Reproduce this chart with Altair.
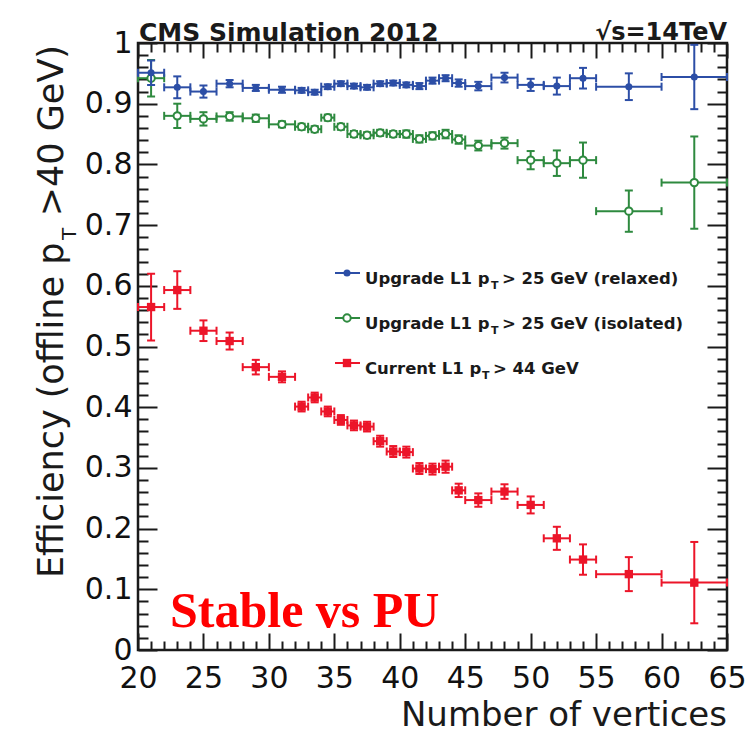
import altair as alt
import pandas as pd

# Bin centres and edges in number of reconstructed vertices
vtx = [21, 23, 25, 27, 29, 31, 32.5, 33.5, 34.5, 35.5, 36.5, 37.5, 38.5, 39.5,
       40.5, 41.5, 42.5, 43.5, 44.5, 46, 48, 50, 52, 54, 57.5, 62.5]
vtx_lo = [20, 22, 24, 26, 28, 30, 32, 33, 34, 35, 36, 37, 38, 39,
          40, 41, 42, 43, 44, 45, 47, 49, 51, 53, 55, 60]
vtx_hi = [22, 24, 26, 28, 30, 32, 33, 34, 35, 36, 37, 38, 39, 40,
          41, 42, 43, 44, 45, 47, 49, 51, 53, 55, 60, 65]

# Upgrade L1, pT > 25 GeV (relaxed)
eff_relaxed = [0.951, 0.927, 0.920, 0.933, 0.926, 0.923, 0.922, 0.919, 0.928,
               0.933, 0.929, 0.927, 0.933, 0.934, 0.931, 0.929, 0.938, 0.942,
               0.934, 0.929, 0.943, 0.931, 0.929, 0.942, 0.928, 0.944]
err_relaxed = [0.020, 0.018, 0.010, 0.006, 0.005, 0.005, 0.004, 0.004, 0.004,
               0.004, 0.004, 0.004, 0.004, 0.004, 0.004, 0.005, 0.005, 0.005,
               0.006, 0.007, 0.008, 0.010, 0.014, 0.017, 0.022, 0.053]

# Upgrade L1, pT > 25 GeV (isolated)
eff_isolated = [0.942, 0.880, 0.875, 0.879, 0.876, 0.866, 0.862, 0.858, 0.877,
                0.862, 0.850, 0.848, 0.852, 0.850, 0.850, 0.842, 0.847, 0.850,
                0.841, 0.831, 0.835, 0.807, 0.802, 0.807, 0.723, 0.770]
err_isolated = [0.030, 0.020, 0.011, 0.007, 0.006, 0.005, 0.005, 0.005, 0.005,
                0.005, 0.005, 0.005, 0.005, 0.005, 0.006, 0.006, 0.006, 0.007,
                0.007, 0.008, 0.009, 0.015, 0.021, 0.029, 0.034, 0.076]

# Current L1, pT > 44 GeV
eff_current = [0.565, 0.593, 0.526, 0.509, 0.466, 0.450, 0.401, 0.416, 0.393,
               0.379, 0.370, 0.368, 0.344, 0.327, 0.326, 0.299, 0.298, 0.302,
               0.263, 0.247, 0.261, 0.239, 0.184, 0.149, 0.125, 0.111]
err_current = [0.055, 0.031, 0.017, 0.014, 0.012, 0.009, 0.008, 0.008, 0.008,
               0.008, 0.008, 0.008, 0.009, 0.009, 0.009, 0.009, 0.009, 0.010,
               0.011, 0.011, 0.012, 0.014, 0.019, 0.025, 0.028, 0.067]

x_major_ticks = list(range(20, 66, 5))
x_minor_ticks = [v for v in range(20, 66) if v % 5]
y_major_ticks = [round(i * 0.1, 1) for i in range(11)]
y_minor_ticks = [round(i * 0.02, 2) for i in range(51) if i % 5]

BLUE = "#2c4ea6"
GREEN = "#2e8a3f"
RED = "#ec1529"
INK = "#1a1a1a"
SANS = "DejaVu Sans"

W, H = 589, 607
PAD_L, PAD_T = 138, 43

x_scale = alt.Scale(domain=[20, 65], nice=False, zero=False)
y_scale = alt.Scale(domain=[0, 1], nice=False, zero=False)


def frame_axis(orient, values, length, labels=False, pad=0):
    """Ticks that point into the frame: the axis line is pulled inside by
    the tick length and hidden, so the ticks end on the frame border."""
    kw = dict(labelFont=SANS, labelFontSize=30, labelColor="#111",
              labelPadding=pad, labelFlush=False, labelOverlap=False,
              labelExpr="format(datum.value, '~g')") if labels else {}
    return alt.Axis(
        orient=orient, values=values, domain=False, grid=False, title=None,
        labels=labels, tickSize=length, tickWidth=2, tickColor=INK,
        offset={"expr": str(-length)}, **kw,
    )


x_axis = frame_axis("bottom", x_major_ticks, 17, labels=True, pad=13)
y_axis = frame_axis("left", y_major_ticks, 19, labels=True, pad=6)


def X(field):
    return alt.X(field, type="quantitative", scale=x_scale, axis=x_axis)


def Y(field):
    return alt.Y(field, type="quantitative", scale=y_scale, axis=y_axis)


def series_layers(eff, err, color, marker):
    df = pd.DataFrame({"x": vtx, "lo": vtx_lo, "hi": vtx_hi, "eff": eff})
    df["elo"] = [e - d for e, d in zip(eff, err)]
    df["ehi"] = [e + d for e, d in zip(eff, err)]
    # end caps of the horizontal (bin width) bars
    hcaps = pd.DataFrame({"cx": vtx_lo + vtx_hi, "cy": eff + eff})
    # end caps of the vertical (statistical) bars
    vcaps = pd.DataFrame({"cx": vtx + vtx, "cy": list(df["elo"]) + list(df["ehi"])})

    base = alt.Chart(df)
    hbar = base.mark_rule(color=color, strokeWidth=2).encode(
        x=X("lo"), x2="hi", y=Y("eff"))
    vbar = base.mark_rule(color=color, strokeWidth=2).encode(
        x=X("x"), y=Y("elo"), y2="ehi")
    hcap = alt.Chart(hcaps).mark_tick(
        orient="vertical", size=8, thickness=2, color=color, opacity=1
    ).encode(x=X("cx"), y=Y("cy"))
    vcap = alt.Chart(vcaps).mark_tick(
        orient="horizontal", size=8, thickness=2, color=color, opacity=1
    ).encode(x=X("cx"), y=Y("cy"))
    pts = base.mark_point(**marker).encode(x=X("x"), y=Y("eff"))
    return [hbar, vbar, hcap, vcap, pts]


m_relaxed = dict(shape="circle", filled=True, size=50, color=BLUE, opacity=1)
m_isolated = dict(shape="circle", filled=True, fill="white", stroke=GREEN,
                  strokeWidth=2, size=55, opacity=1)
m_current = dict(shape="square", filled=True, size=70, color=RED, opacity=1)

one = pd.DataFrame({"k": [0]})


def text(label, x, y, size, **kw):
    return alt.Chart(one).mark_text(
        text=label, fontSize=size, font=kw.pop("font", SANS),
        color=kw.pop("color", INK), **kw
    ).encode(x=alt.value(x - PAD_L), y=alt.value(y - PAD_T))


# legend entries: row y, leading text, subscript x, trailing text x, trailing text
legend_rows = [
    (273, "Upgrade L1 p", 491, 502, "> 25 GeV (relaxed)", BLUE, m_relaxed),
    (318, "Upgrade L1 p", 491, 502, "> 25 GeV (isolated)", GREEN, m_isolated),
    (363, "Current L1 p", 482, 493, "> 44 GeV", RED, m_current),
]
legend = []
for ry, head, sub_x, tail_x, tail, color, marker in legend_rows:
    legend.append(alt.Chart(one).mark_rule(color=color, strokeWidth=2).encode(
        x=alt.value(335 - PAD_L), x2=alt.value(360 - PAD_L), y=alt.value(ry - PAD_T)))
    legend.append(alt.Chart(one).mark_point(**marker).encode(
        x=alt.value(347 - PAD_L), y=alt.value(ry - PAD_T)))
    legend.append(text(head, 365, ry + 6, 16.5, fontWeight="bold", align="left"))
    legend.append(text("T", sub_x, ry + 13, 11, fontWeight="bold", align="left"))
    legend.append(text(tail, tail_x, ry + 6, 16.5, fontWeight="bold", align="left"))

labels = [
    text("CMS Simulation 2012", 139, 33, 25, fontWeight="bold", align="left"),
    text("√s=14TeV", 727, 33, 24, fontWeight="bold", align="right"),
    text("Stable vs PU", 170, 612, 50, font="Liberation Serif",
         fontWeight="bold", color="#ff0000", align="left"),
    text("Number of vertices", 727, 716, 34, align="right"),
    # rotated y title with a subscript T
    text("Efficiency (offline p", 52, 578, 35, angle=270, align="left"),
    text("T", 70, 240, 20, angle=270, align="left"),
    text(">40 GeV)", 52, 45, 35, angle=270, align="right"),
]

main = alt.layer(
    *series_layers(eff_current, err_current, RED, m_current),
    *series_layers(eff_isolated, err_isolated, GREEN, m_isolated),
    *series_layers(eff_relaxed, err_relaxed, BLUE, m_relaxed),
    *legend,
    *labels,
)


def tick_layer(x_axis_def, y_axis_def):
    # invisible point that only carries an extra pair of tick-mark axes
    return alt.Chart(pd.DataFrame({"x": [20], "y": [0]})).mark_point(
        opacity=0
    ).encode(
        x=alt.X("x:Q", scale=x_scale, axis=x_axis_def),
        y=alt.Y("y:Q", scale=y_scale, axis=y_axis_def),
    )


minor_bl = tick_layer(frame_axis("bottom", x_minor_ticks, 9),
                      frame_axis("left", y_minor_ticks, 10))
major_tr = tick_layer(frame_axis("top", x_major_ticks, 15),
                      frame_axis("right", y_major_ticks, 20))
minor_tr = tick_layer(frame_axis("top", x_minor_ticks, 9),
                      frame_axis("right", y_minor_ticks, 10))

chart = alt.layer(main, minor_bl, major_tr, minor_tr).resolve_scale(
    x="independent", y="independent"
).properties(
    width=W, height=H,
    padding={"left": PAD_L, "top": PAD_T, "right": 755 - PAD_L - W,
             "bottom": 734 - PAD_T - H},
    autosize=alt.AutoSizeParams(type="none"),
    background="white",
).configure_view(stroke=INK, strokeWidth=2.5)

chart.save("out.html", embed_options={"renderer": "svg", "actions": False})
